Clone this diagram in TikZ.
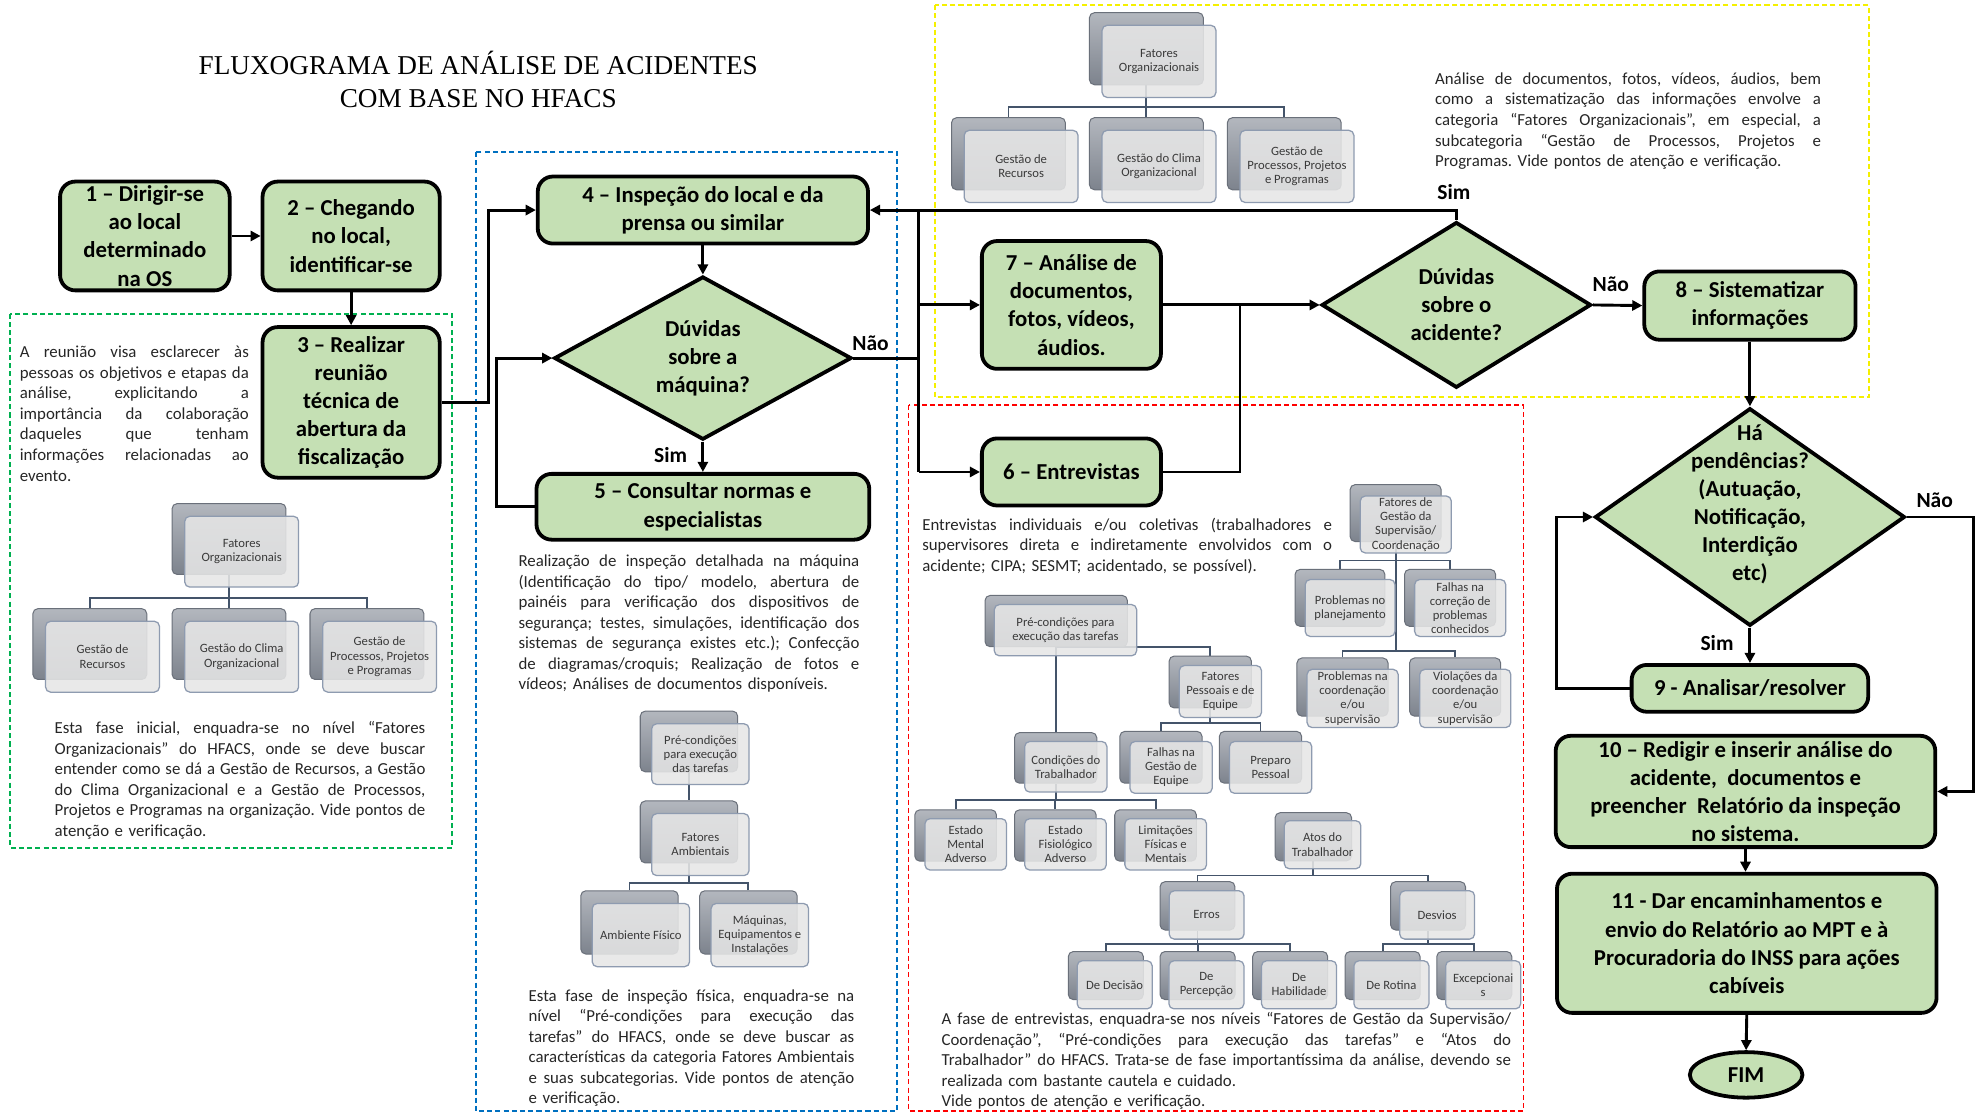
\documentclass[tikz,border=0pt]{standalone}
\usepackage{fontspec}
\setmainfont{Carlito}
\newfontfamily\titlefont{Liberation Serif}
\usetikzlibrary{arrows.meta,shapes.geometric}
\pgfdeclarelayer{dashl}
\pgfdeclarelayer{linel}
\pgfsetlayers{dashl,linel,main}
\frenchspacing
\definecolor{boxgreen}{HTML}{C5E0B4}
\definecolor{dgreen}{HTML}{00B050}
\definecolor{dblue}{HTML}{0070C0}
\definecolor{dyellow}{HTML}{F5F000}
\definecolor{dred}{HTML}{FF0000}
\definecolor{hbtop}{HTML}{B3B7BE}
\definecolor{hbbot}{HTML}{7D838D}
\definecolor{hbdraw}{HTML}{6A707A}
\definecolor{hffill}{HTML}{E6E6E6}
\definecolor{hfdraw}{HTML}{8E9BB0}
\definecolor{hline}{HTML}{44546A}
\definecolor{htext}{HTML}{3A3A3A}
\newlength\jw
\newcommand\jline[1]{\leavevmode\hbox to \jw{\spaceskip=0.226em plus 1fil\relax #1}\\}
\newcommand\fstrut{\rule{0pt}{13pt}}
\newcommand\hfx[8]{%
  \node[hback,minimum width=#4pt,minimum height=#5pt] (#1) at ({#2+#4/2},{#3+#5/2}) {};
  \node[hfront,minimum width=#4pt,minimum height=#5pt] (#1f) at ({#2+#4/2+#6},{#3+#5/2+#7}) {#8};}
\newcommand\hlk[3]{\draw[cl] (#2.north) -- ++(0,-#3) -| (#1.south);}
\tikzset{
 flowbox/.style={draw=black, line width=3pt, fill=boxgreen, rounded corners=12pt, align=center, inner sep=1pt, font=\bfseries\fontsize{18}{22.3}\selectfont},
 dia/.style={diamond, draw=black, line width=3pt, fill=boxgreen, inner sep=0pt},
 diatext/.style={align=center, inner sep=0pt, font=\bfseries\fontsize{18}{22.2}\selectfont},
 lbl/.style={inner sep=0pt, font=\bfseries\fontsize{17}{20}\selectfont},
 arr/.style={line width=2.3pt, -{Triangle[length=8pt,width=8pt]}},
 ln/.style={line width=2.3pt},
 dbox/.style={line width=1.4pt, dash pattern=on 4pt off 2.5pt},
 body/.style={anchor=north west, inner sep=0pt, align=left, text=black!85, font=\fontsize{13.3}{16.25}\selectfont\frenchspacing},
 hback/.style={rectangle, rounded corners=4pt, draw=hbdraw, line width=0.8pt, top color=hbtop, bottom color=hbbot, inner sep=0pt},
 hfront/.style={rectangle, rounded corners=4pt, draw=hfdraw, line width=1pt, fill=hffill, fill opacity=0.88, text opacity=1, text=htext, align=center, inner sep=0.5pt, font=\fontsize{10}{11.2}\selectfont},
 cl/.style={draw=hline, line width=1.5pt},
 ttl/.style={anchor=north, inner sep=0pt, align=center, font=\titlefont\fontsize{21.5}{26.5}\selectfont},
}
\begin{document}
\begin{tikzpicture}[x=1pt,y=-1pt]
\begin{pgfonlayer}{dashl}
\fill[white] (0,0) rectangle (1568,881);
\draw[dbox, draw=dgreen] (8,248) rectangle (357,670);
\draw[dbox, draw=dblue] (376,120) rectangle (709,878);
\draw[dbox, draw=dyellow] (739,4) rectangle (1477,314);
\draw[dbox, draw=dred] (718,320) rectangle (1204,878);
\end{pgfonlayer}
\useasboundingbox (0,0) rectangle (1568,881);

% title
\node[ttl] (title) at (378,38.5) {\rule{0pt}{20pt}FLUXOGRAMA DE ANÁLISE DE ACIDENTES\\COM BASE NO HFACS};

% flow nodes
\node[flowbox, minimum width=134pt, minimum height=86pt] (b1) at (114.5,186.5) {1 – Dirigir-se\\ao local\\determinado\\na OS};
\node[flowbox, minimum width=140pt, minimum height=86pt] (b2) at (277.5,186.5) {2 – Chegando\\no local,\\identificar-se};
\node[flowbox, minimum width=140pt, minimum height=119pt] (b3) at (277.5,318) {3 – Realizar\\reunião\\técnica de\\abertura da\\fiscalização};
\node[flowbox, minimum width=261pt, minimum height=53pt] (b4) at (555.5,166) {4 – Inspeção do local e da\\prensa ou similar};
\node[dia, minimum width=235pt, minimum height=129pt] (d1) at (555.5,283) {};
\node[diatext] (d1t) at (555.5,283) {Dúvidas\\sobre a\\máquina?};
\node[flowbox, minimum width=263pt, minimum height=52pt] (b5) at (555.5,400.5) {5 – Consultar normas e\\especialistas};
\node[flowbox, minimum width=141.5pt, minimum height=101pt] (b7) at (846.75,241) {7 – Análise de\\documentos,\\fotos, vídeos,\\áudios.};
\node[flowbox, minimum width=141.5pt, minimum height=53pt] (b6) at (846.75,373) {6 – Entrevistas};
\node[dia, minimum width=213pt, minimum height=131pt] (d2) at (1151,241) {};
\node[diatext] (d2t) at (1151,241) {Dúvidas\\sobre o\\acidente?};
\node[flowbox, minimum width=167pt, minimum height=54pt] (b8) at (1383,241.5) {8 – Sistematizar\\informações};
\node[dia, minimum width=245pt, minimum height=172pt] (d3) at (1383,408.6) {};
\node[diatext] (d3t) at (1383,398.5) {Há\\pendências?\\(Autuação,\\Notificação,\\Interdição\\etc)};
\node[flowbox, minimum width=187pt, minimum height=37pt] (b9) at (1383,544) {9 - Analisar/resolver};
\node[flowbox, minimum width=300pt, minimum height=88pt] (b10) at (1379.5,625.5) {10 – Redigir e inserir análise do\\acidente,\ \ documentos e\\preencher\ \ Relatório da inspeção\\no sistema.};
\node[flowbox, minimum width=300pt, minimum height=110pt] (b11) at (1380.5,745.5) {11 - Dar encaminhamentos e\\envio do Relatório ao MPT e à\\Procuradoria do INSS para ações\\cabíveis};
\node[flowbox, ellipse, sharp corners, minimum width=89pt, minimum height=36pt] (fim) at (1380,849.5) {FIM};

% labels
\node[lbl] (l1) at (530,360) {Sim};
\node[lbl] (l2) at (688,271) {Não};
\node[lbl] (l3) at (1149,152) {Sim};
\node[lbl] (l4) at (1273,225) {Não};
\node[lbl] (l5) at (1357,508) {Sim};
\node[lbl] (l6) at (1529,395) {Não};

% connectors
\coordinate (bus) at (726,166);
\coordinate (j6) at (980,241);
\draw[arr] (b1.east) -- (b2.west);
\draw[arr] (b2.south) -- (b3.north);
\draw[arr] (b3.east) -- ++(37,0) |- (b4.west);
\draw[arr] (b4.south) -- (d1.north);
\draw[arr] (d1.south) -- (b5.north);
\draw[arr] (b5.west) -- ++(-30,0) |- (d1.west);
\draw[arr] (d2.north) |- (b4.east);
\draw[ln] (bus) -- (bus |- b6.west);
\draw[ln] (d1.east) -- (bus |- d1.east);
\draw[arr] (bus |- b7.west) -- (b7.west);
\draw[arr] (bus |- b6.west) -- (b6.west);
\draw[arr] (b7.east) -- (d2.west);
\draw[ln] (b6.east) -| (j6);
\draw[arr] (d2.east) -- (b8.west);
\draw[arr] (b8.south) -- (d3.north);
\draw[arr] (d3.south) -- (b9.north);
\draw[arr] (b9.west) -- ++(-58,0) |- (d3.west);
\draw[arr] (d3.east) -- ++(53,0) |- (b10.east);
\draw[arr] (b10.south) -- (b10.south |- b11.north);
\draw[arr] (b11.south) -- (fim.north);

% body texts
\node[body, text width=181pt] (t1) at (15.5,269.5) {\setlength\jw{181pt}\jline{\fstrut A reunião visa esclarecer às}\jline{pessoas os objetivos e etapas da}\jline{análise, explicitando a}\jline{importância da colaboração}\jline{daqueles que tenham}\jline{informações relacionadas ao}evento.};
\node[body, text width=293pt] (t2) at (43,566.5) {\setlength\jw{293pt}\jline{\fstrut Esta fase inicial, enquadra-se no nível “Fatores}\jline{Organizacionais” do HFACS, onde se deve buscar}\jline{entender como se dá a Gestão de Recursos, a Gestão}\jline{do Clima Organizacional e a Gestão de Processos,}\jline{Projetos e Programas na organização. Vide pontos de}atenção e verificação.};
\node[body, text width=269.4pt] (t3) at (409.6,434.5) {\setlength\jw{269.4pt}\jline{\fstrut Realização de inspeção detalhada na máquina}\jline{(Identificação do tipo/ modelo, abertura de}\jline{painéis para verificação dos dispositivos de}\jline{segurança; testes, simulações, identificação dos}\jline{sistemas de segurança existes etc.); Confecção}\jline{de diagramas/croquis; Realização de fotos e}vídeos; Análises de documentos disponíveis.};
\node[body, text width=257.4pt] (t4) at (417.6,778) {\setlength\jw{257.4pt}\jline{\fstrut Esta fase de inspeção física, enquadra-se na}\jline{nível “Pré-condições para execução das}\jline{tarefas” do HFACS, onde se deve buscar as}\jline{características da categoria Fatores Ambientais}\jline{e suas subcategorias. Vide pontos de atenção}e verificação.};
\node[body, text width=305pt] (t5) at (1134,53.5) {\setlength\jw{305pt}\jline{\fstrut Análise de documentos, fotos, vídeos, áudios, bem}\jline{como a sistematização das informações envolve a}\jline{categoria “Fatores Organizacionais”, em especial, a}\jline{subcategoria “Gestão de Processos, Projetos e}Programas. Vide pontos de atenção e verificação.};
\node[body, text width=323.8pt] (t6) at (728.7,406) {\setlength\jw{323.8pt}\jline{\fstrut Entrevistas individuais e/ou coletivas (trabalhadores e}\jline{supervisores direta e indiretamente envolvidos com o}acidente; CIPA; SESMT; acidentado, se possível).};
\node[body, text width=450pt] (t7) at (744,796.5) {\setlength\jw{450pt}\jline{\fstrut A fase de entrevistas, enquadra-se nos níveis “Fatores de Gestão da Supervisão/}\jline{Coordenação”, “Pré-condições para execução das tarefas” e “Atos do}\jline{Trabalhador” do HFACS. Trata-se de fase importantíssima da análise, devendo se}realizada com bastante cautela e cuidado.\\Vide pontos de atenção e verificação.};

% HFACS charts: green
\hfx{ga}{136}{398}{90}{56}{10}{10}{Fatores\\Organizacionais}
\hfx{gb}{26}{481}{90}{56}{10}{10}{Gestão de\\Recursos}
\hfx{gc}{136}{481}{90}{56}{10}{10}{Gestão do Clima\\Organizacional}
\hfx{gd}{245}{481}{90}{56}{10}{10}{Gestão de\\Processos, Projetos\\e Programas}
% yellow
\hfx{ya}{861}{10}{90}{57}{10}{10}{Fatores\\Organizacionais}
\hfx{yb}{752}{93}{90}{57}{10}{10}{Gestão de\\Recursos}
\hfx{yc}{861}{93}{90}{57}{10}{10}{Gestão do Clima\\Organizacional}
\hfx{yd}{970}{93}{90}{57}{10}{10}{Gestão de\\Processos, Projetos\\e Programas}
% blue
\hfx{ba}{506}{562}{77}{48}{9}{10}{Pré-condições\\para execução\\das tarefas}
\hfx{bb}{506}{633}{77}{49}{9}{10}{Fatores\\Ambientais}
\hfx{bc}{459}{704}{77}{50}{9}{10}{Ambiente Físico}
\hfx{bd}{553}{704}{77}{50}{9}{10}{Máquinas,\\Equipamentos e\\Instalações}
% red: supervision
\hfx{ra}{1067}{383}{72}{45}{8}{9}{Fatores de\\Gestão da\\Supervisão/\\Coordenação}
\hfx{rb}{1023.5}{450}{71}{45}{8}{8}{Problemas no\\planejamento}
\hfx{rc}{1110}{450}{72}{45}{8}{8}{Falhas na\\correção de\\problemas\\conhecidos}
\hfx{rd}{1025}{520}{72}{46}{8}{9}{Problemas na\\coordenação\\e/ou\\supervisão}
\hfx{re}{1114}{520}{72}{46}{8}{9}{Violações da\\coordenação\\e/ou\\supervisão}
% red: preconditions
\hfx{pa}{778.5}{470.6}{112.5}{40.5}{7.3}{7.2}{Pré-condições para\\execução das tarefas}
\hfx{pb}{924}{518.5}{65}{41}{8}{7.5}{Fatores\\Pessoais e de\\Equipe}
\hfx{pc}{885}{578}{65}{41}{8}{8}{Falhas na\\Gestão de\\Equipe}
\hfx{pd}{963.7}{578}{65}{41}{8}{8}{Preparo\\Pessoal}
\hfx{pe}{801.8}{579}{65}{40}{8}{7}{Condições do\\Trabalhador}
\hfx{pf}{723}{640}{64.5}{40.6}{8}{7}{Estado\\Mental\\Adverso}
\hfx{pg}{801.8}{640}{64.5}{40.6}{8}{7}{Estado\\Fisiológico\\Adverso}
\hfx{ph}{881}{640}{64.5}{40.6}{8}{7}{Limitações\\Físicas e\\Mentais}
% red: acts
\hfx{aa}{1007.7}{642.3}{60.5}{38}{7.3}{6.3}{Atos do\\Trabalhador}
\hfx{ab}{916.8}{696.8}{59.2}{38.2}{7.2}{7.2}{Erros}
\hfx{ac}{1099}{696.8}{59.2}{38.2}{7.2}{7.2}{Desvios}
\hfx{ea}{844.3}{752}{59.3}{38}{7}{7.3}{De Decisão}
\hfx{eb}{916.8}{752}{59.3}{38}{7}{7.3}{De\\Percepção}
\hfx{ec}{990}{752}{59.3}{38}{7}{7.3}{De\\Habilidade}
\hfx{ed}{1063}{752}{59.3}{38}{7}{7.3}{De Rotina}
\hfx{ee}{1135.5}{752}{59.3}{38}{7}{7.3}{Excepcionai\\s}

\begin{pgfonlayer}{linel}
\hlk{ga}{gb}{8}\hlk{ga}{gc}{8}\hlk{ga}{gd}{8}
\hlk{ya}{yb}{8}\hlk{ya}{yc}{8}\hlk{ya}{yd}{8}
\draw[cl] (ba.south) -- (bb.north);
\hlk{bb}{bc}{6}\hlk{bb}{bd}{6}
\hlk{ra}{rb}{6.6}\hlk{ra}{rc}{6.6}\hlk{ra}{rd}{5}\hlk{ra}{re}{5}
\draw[cl] (pa.south) -- (pa.south |- pe.north);
\draw[cl] (pb.north) |- (pa.south);
\hlk{pb}{pc}{6}\hlk{pb}{pd}{6}
\hlk{pe}{pf}{7}\hlk{pe}{pg}{7}\hlk{pe}{ph}{7}
\hlk{aa}{ab}{4.5}\hlk{aa}{ac}{4.5}
\hlk{ab}{ea}{5.7}\hlk{ab}{eb}{5.7}\hlk{ab}{ec}{5.7}
\hlk{ac}{ed}{5.7}\hlk{ac}{ee}{5.7}
\end{pgfonlayer}
\end{tikzpicture}
\end{document}
